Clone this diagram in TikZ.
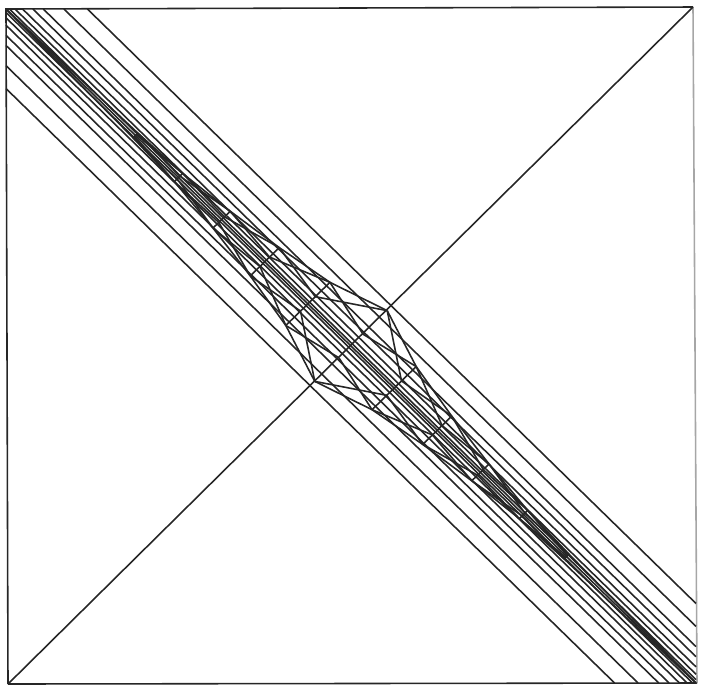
\documentclass[tikz,border=0pt]{standalone}
\usepackage{tikz}
\usetikzlibrary{calc}
\tikzset{meshline/.style={line width=0.45pt, black!85}}
% point given by position u along the band and offset w across it
\newcommand{\uw}[2]{({(#1)+(#2)/2},{(#1)-(#2)/2})}
\begin{document}
\begin{tikzpicture}[x=1cm, y=-1cm]
    \useasboundingbox (0,0) rectangle (7.01,6.86);
    \coordinate (TL) at (0.06,0.09);
    \coordinate (TR) at (6.93,0.07);
    \coordinate (BR) at (6.97,6.83);
    \coordinate (BL) at (0.08,6.84);
    \draw[meshline] (BL) -- (TL) -- (TR);
    \draw[meshline] (BL) -- (BR);
    \draw[meshline, black!35] (TR) -- (BR);
    \draw[meshline] (BL) -- (TR);
    \begin{scope}[shift={(0.06,0.09)}, x=6.90cm, y=-6.74cm]
        % straight lines along the band
        \foreach \c in {0.118, 0.084, 0.054, 0.039, 0.024, 0.013, 0.005} {
            \draw[meshline] (\c,0) -- (1,1-\c);
            \draw[meshline] (0,\c) -- (1-\c,1);
        }
        \draw[meshline] (0,0) -- (1,1);
        % cells between the rungs
        \foreach \d/\ha/\hb in {0/0.105/0.064, 1/0.064/0.042, 2/0.042/0.025, 3/0.025/0.012, 4/0.012/0.007} {
            \foreach \s in {-1,1} {
                \pgfmathsetmacro{\ua}{0.5+\s*\d/16}
                \pgfmathsetmacro{\ub}{0.5+\s*(\d+1)/16}
                \draw[meshline] \uw{\ub}{-\hb} -- \uw{\ub}{\hb};
                \draw[meshline] \uw{\ua}{\ha} -- \uw{\ub}{\hb};
                \draw[meshline] \uw{\ua}{-\ha} -- \uw{\ub}{-\hb};
                \draw[meshline] \uw{\ua}{\ha} -- \uw{\ub}{\hb/3};
                \draw[meshline] \uw{\ua}{-\ha} -- \uw{\ub}{-\hb/3};
                \draw[meshline] \uw{\ua}{\ha/3} -- \uw{\ub}{\hb};
                \draw[meshline] \uw{\ua}{-\ha/3} -- \uw{\ub}{-\hb};
            }
        }
        % last cells run into the corners
        \draw[meshline] \uw{0.1875}{0.007} -- (0,0) -- \uw{0.1875}{-0.007};
        \draw[meshline] \uw{0.8125}{0.007} -- (1,1) -- \uw{0.8125}{-0.007};
    \end{scope}
\end{tikzpicture}
\end{document}
